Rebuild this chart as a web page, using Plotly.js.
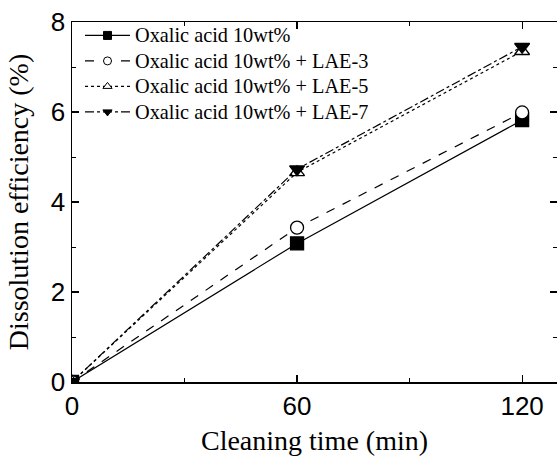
<!DOCTYPE html>
<html>
<head>
<meta charset="utf-8">
<script src="https://cdn.plot.ly/plotly-3.0.1.min.js"></script>
<style>
html,body{margin:0;padding:0;background:#fff;}
#chart{width:557px;height:456px;}
</style>
</head>
<body>
<div id="chart"></div>
<script>
const time = [0, 60, 120];
const seriesNames = [
  "Oxalic acid 10wt%",
  "Oxalic acid 10wt% + LAE-3",
  "Oxalic acid 10wt% + LAE-5",
  "Oxalic acid 10wt% + LAE-7"
];
const oxalic = [0, 3.08, 5.82];
const lae3 = [0, 3.43, 5.99];
const lae5 = [0, 4.66, 7.35];
const lae7 = [0, 4.73, 7.45];
const xTicks = [0, 60, 120];
const yTicks = [0, 2, 4, 6, 8];

const SERIF = "'Liberation Serif', 'Times New Roman', 'DejaVu Serif', serif";
const SANS = "'Liberation Sans', Arial, sans-serif";

const values = [oxalic, lae3, lae5, lae7];
const dashes = ["solid", "dash", "dot", "dashdot"];
const symbols = ["square", "circle", "triangle-up", "triangle-down"];
const fills = ["black", "white", "white", "black"];

const traces = [];
values.forEach((v, i) => {
  traces.push({
    x: time, y: v, type: "scatter", mode: "lines+markers",
    showlegend: false,
    line: {color: "black", width: 1.2, dash: dashes[i]},
    marker: {symbol: symbols[i], size: 13, color: fills[i], line: {color: "black", width: 1.3}}
  });
});
values.forEach((v, i) => {
  traces.push({
    x: [null], y: [null], type: "scatter", mode: "lines+markers",
    name: '<span style="font-size:20.3px">' + seriesNames[i] + '</span>',
    line: {color: "black", width: 1.2, dash: dashes[i]},
    marker: {symbol: symbols[i], size: 8, color: fills[i], line: {color: "black", width: 1}}
  });
});

const layout = {
  width: 557, height: 456,
  margin: {l: 72, r: 0, t: 22, b: 74},
  paper_bgcolor: "white", plot_bgcolor: "white",
  font: {family: SERIF, color: "black"},
  showlegend: true,
  legend: {
    x: 0.0165, y: 1.012, xanchor: "left", yanchor: "top",
    bgcolor: "rgba(0,0,0,0)", itemwidth: 45,
    font: {family: SERIF, size: 17.3, color: "black"}
  },
  xaxis: {
    range: [0, 129.3], tickvals: xTicks, ticktext: xTicks.map(String),
    showgrid: false, zeroline: false, showline: true, linecolor: "black", linewidth: 1.5,
    mirror: "ticks", ticks: "inside", ticklen: 7, tickwidth: 1.2, tickcolor: "black",
    minor: {tickvals: [30, 90], ticks: "inside", ticklen: 4, tickwidth: 1, tickcolor: "black"},
    tickfont: {family: SANS, size: 26, color: "black"},
    title: {text: "Cleaning time (min)", standoff: 14,
      font: {family: SERIF, size: 28, color: "black"}}
  },
  yaxis: {
    range: [0, 8], tickvals: yTicks, ticktext: yTicks.map(String),
    showgrid: false, zeroline: false, showline: true, linecolor: "black", linewidth: 1.5,
    mirror: "ticks", ticks: "inside", ticklen: 7, tickwidth: 1.2, tickcolor: "black",
    minor: {tickvals: [1, 3, 5, 7], ticks: "inside", ticklen: 4, tickwidth: 1, tickcolor: "black"},
    tickfont: {family: SANS, size: 26, color: "black"},
    title: {text: "Dissolution efficiency (%)", standoff: 14,
      font: {family: SERIF, size: 28, color: "black"}}
  }
};

Plotly.newPlot("chart", traces, layout, {displayModeBar: false, staticPlot: true});
</script>
</body>
</html>
